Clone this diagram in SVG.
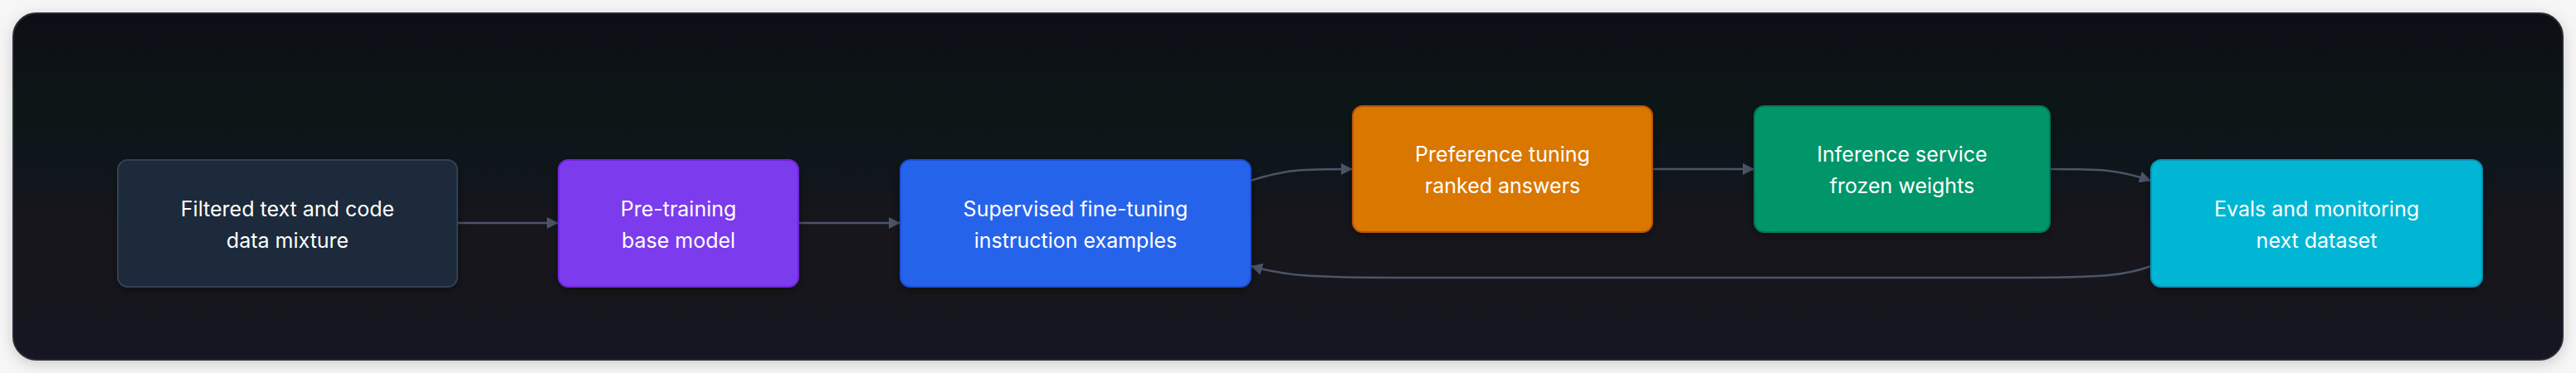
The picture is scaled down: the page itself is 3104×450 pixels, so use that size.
<svg xmlns="http://www.w3.org/2000/svg" width="3104" height="450" viewBox="0 0 3104 450">
<defs>
<filter id="sh" x="-5%" y="-20%" width="110%" height="140%"><feDropShadow dx="0" dy="4" stdDeviation="8" flood-color="#000" flood-opacity="0.18"/></filter>
<filter id="ns" x="-10%" y="-20%" width="120%" height="150%"><feDropShadow dx="0" dy="4" stdDeviation="6" flood-color="#000" flood-opacity="0.35"/></filter>
<linearGradient id="bg" x1="0" y1="0" x2="0" y2="1"><stop offset="0" stop-color="#0f1115"/><stop offset="1" stop-color="#141521"/></linearGradient>
<marker id="ar" viewBox="0 0 10 10" refX="9" refY="5" markerWidth="6" markerHeight="6" orient="auto" markerUnits="userSpaceOnUse"><path d="M0,0 L10,5 L0,10 z" fill="#4b5567"/></marker>
<marker id="a" viewBox="0 0 10 10" refX="10" refY="5" markerWidth="14" markerHeight="14" orient="auto" markerUnits="userSpaceOnUse"><path d="M0,0 L10,5 L0,10 z" fill="#4b5567"/></marker>
</defs>
<style>
.n{stroke-width:2;filter:url(#ns)}
.t{font-family:Inter,"Liberation Sans",sans-serif;font-size:25px;fill:#ffffff;text-anchor:middle}
.e{fill:none;stroke:#4b5567;stroke-width:2.5;marker-end:url(#a)}
</style>
<rect width="3104" height="450" fill="#f6f6f7"/>
<rect x="16" y="16" width="3072" height="418" rx="28" fill="url(#bg)" stroke="#262a33" stroke-width="2" filter="url(#sh)"/>
<g id="connectors">
<path class="e" d="M551,269 L673,269"/>
<path class="e" d="M962,269 L1085,269"/>
<path class="e" d="M1507,218 C1550,204 1570,204 1630,204"/>
<path class="e" d="M1991,204 L2114,204"/>
<path class="e" d="M2470,204 C2530,204 2550,204 2592,218"/>
<path class="e" d="M2592,321 C2560,333 2530,335 2420,335 L1700,335 C1580,335 1550,333 1507,321"/>
</g>
<g id="n1"><rect class="n" x="142" y="193" width="409" height="153" rx="12" fill="#1e293b" stroke="#334155"/><text class="t" x="346.5" y="261">Filtered text and code</text><text class="t" x="346.5" y="299">data mixture</text></g>
<g id="n2"><rect class="n" x="673" y="193" width="289" height="153" rx="12" fill="#7c3aed" stroke="#6d28d9"/><text class="t" x="817.5" y="261">Pre-training</text><text class="t" x="817.5" y="299">base model</text></g>
<g id="n3"><rect class="n" x="1085" y="193" width="422" height="153" rx="12" fill="#2563eb" stroke="#1d4ed8"/><text class="t" x="1296" y="261">Supervised fine-tuning</text><text class="t" x="1296" y="299">instruction examples</text></g>
<g id="n4"><rect class="n" x="1630" y="128" width="361" height="152" rx="12" fill="#d97706" stroke="#b45309"/><text class="t" x="1810.5" y="195">Preference tuning</text><text class="t" x="1810.5" y="233">ranked answers</text></g>
<g id="n5"><rect class="n" x="2114" y="128" width="356" height="152" rx="12" fill="#059669" stroke="#047857"/><text class="t" x="2292" y="195">Inference service</text><text class="t" x="2292" y="233">frozen weights</text></g>
<g id="n6"><rect class="n" x="2592" y="193" width="399" height="153" rx="12" fill="#06b6d4" stroke="#0891b2"/><text class="t" x="2791.5" y="261">Evals and monitoring</text><text class="t" x="2791.5" y="299">next dataset</text></g>
</svg>
